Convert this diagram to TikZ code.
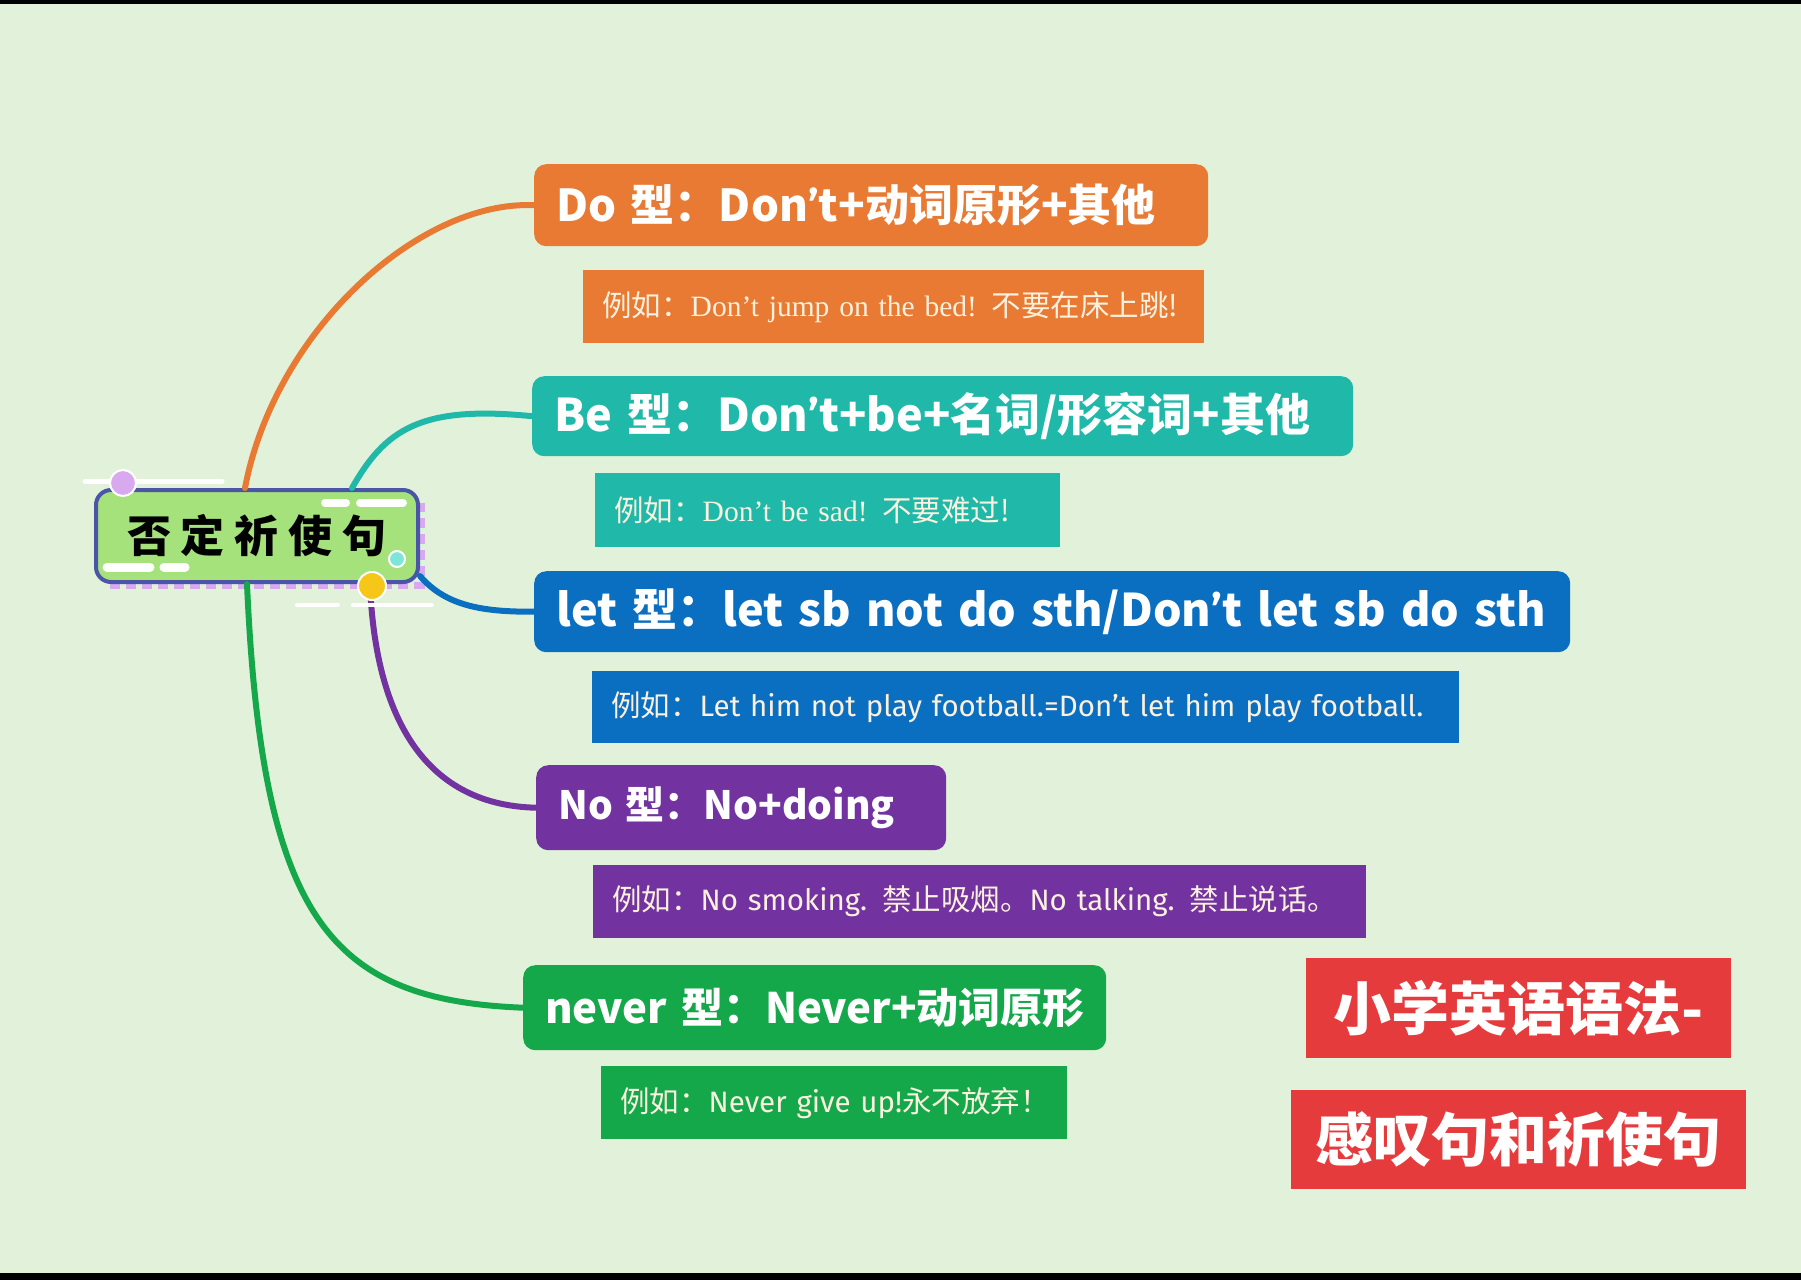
\documentclass[tikz,border=0pt]{standalone}
\usepackage{fontspec}
\usepackage{xcolor}
\usetikzlibrary{positioning}
\newfontfamily\cjk{Noto Sans CJK SC}
\newfontfamily\serifen{Liberation Serif}
\newfontfamily\sansen{Fira Sans}
\newcommand\apos{{\sansen ’}}
\definecolor{bg}{HTML}{E2F2DA}
\definecolor{doorange}{HTML}{E97A33}
\definecolor{beteal}{HTML}{20B9A9}
\definecolor{letblue}{HTML}{0A6EC1}
\definecolor{nopurple}{HTML}{7232A0}
\definecolor{nevergreen}{HTML}{14A84B}
\definecolor{tagred}{HTML}{E53B3C}
\definecolor{rootgreen}{HTML}{A5E27C}
\definecolor{rootblue}{HTML}{4A55A8}
\definecolor{dotpink}{HTML}{D9A9F0}
\definecolor{dotyellow}{HTML}{F6C619}
\definecolor{dotcyan}{HTML}{7EE6D9}
\definecolor{cream}{HTML}{FBF1DF}

\begin{document}
\begin{tikzpicture}[x=1pt,y=-1pt]
    \tikzstyle{branch}=[line width=6pt, line cap=round]
    \tikzstyle{title box}=[anchor=north west, rounded corners=12pt, text=white, inner xsep=22pt, inner ysep=0pt, align=left, font=\cjk\bfseries\fontsize{45}{48}\selectfont]
    \tikzstyle{example box}=[anchor=north west, text=cream, inner xsep=19pt, inner ysep=0pt, align=left, font=\fontsize{29.5}{32}\selectfont]
    \tikzstyle{tag box}=[anchor=north west, fill=tagred, text=white, inner sep=0pt, font=\cjk\bfseries\fontsize{58}{62}\selectfont]
    \tikzstyle{deco line}=[white, line cap=round]
    \tikzstyle{deco dot}=[draw=white, line width=2pt]

    \useasboundingbox (0,0) rectangle (1801,1280);
    \fill[bg] (0,0) rectangle (1801,1280);
    \fill[black] (0,0) rectangle (1801,4);
    \fill[black] (0,1273) rectangle (1801,1280);

    % central topic
    \draw[dotpink, line width=7pt, dash pattern=on 10pt off 6pt] (110,585) -- (421,585) -- (421,503);
    \node[draw=rootblue, line width=4pt, fill=rootgreen, rounded corners=15pt, anchor=north west, minimum width=322pt, minimum height=92pt, inner sep=0pt, font=\cjk\bfseries\fontsize{44}{48}\selectfont] (root) at (94,488) {否\hspace{10pt}定\hspace{10pt}祈\hspace{10pt}使\hspace{10pt}句};

    % branches
    \node[title box, fill=doorange, minimum height=82pt, text width=630pt, font=\cjk\bfseries\fontsize{44}{48}\selectfont] (do) at (534,164) {\mbox{Do 型：Don\apos t+动词原形+其他}};
    \node[example box, fill=doorange, minimum height=73pt, text width=583pt] (doex) at (583,270) {\mbox{{\cjk 例如：}{\serifen Don’t jump on the bed!} {\cjk 不要在床上跳!}}};

    \node[title box, fill=beteal, minimum height=80pt, text width=777pt] (be) at (532,376) {\mbox{Be 型：Don\apos t+be+名词/形容词+其他}};
    \node[example box, fill=beteal, minimum height=74pt, text width=427pt] (beex) at (595,473) {\mbox{{\cjk 例如：}{\serifen Don’t be sad!} {\cjk 不要难过!}}};

    \node[title box, fill=letblue, minimum height=81pt, text width=992pt] (let) at (534,571) {\mbox{let 型：let sb not do sth/Don\apos t let sb do sth}};
    \node[example box, fill=letblue, minimum height=72pt, text width=829pt] (letex) at (592,671) {\mbox{{\cjk 例如：}{\sansen Let him not play football.=Don’t let him play football.}}};

    \node[title box, fill=nopurple, minimum height=85pt, text width=366pt, font=\cjk\bfseries\fontsize{39}{44}\selectfont] (no) at (536,765) {\mbox{No 型：No+doing}};
    \node[example box, fill=nopurple, minimum height=73pt, text width=735pt] (noex) at (593,865) {\mbox{{\cjk 例如：}{\sansen No smoking.} {\cjk 禁止吸烟。}{\sansen No talking.} {\cjk 禁止说话。}}};

    \node[title box, fill=nevergreen, minimum height=85pt, text width=539pt, font=\cjk\bfseries\fontsize{42}{46}\selectfont] (never) at (523,965) {\mbox{never 型：Never+动词原形}};
    \node[example box, fill=nevergreen, minimum height=73pt, text width=428pt] (neverex) at (601,1066) {\mbox{{\cjk 例如：}{\sansen Never give up!}{\cjk 永不放弃！}}};

    \draw[branch, doorange] ([xshift=-12pt]root.north) .. controls (275,330) and (420,200) .. (do.west);
    \draw[branch, beteal] ([xshift=95pt]root.north) .. controls (385,430) and (420,405) .. (be.west);
    \draw[branch, letblue] ([yshift=-40pt]root.east) .. controls (445,605) and (480,612) .. (let.west);
    \draw[branch, nopurple] ([xshift=113pt]root.south) .. controls (375,710) and (420,805) .. (no.west);
    \draw[branch, nevergreen] ([xshift=-10pt]root.south) .. controls (262,920) and (330,1000) .. (never.west);

    % decorations
    \draw[deco line, line width=5pt] (85,481) -- (222,481);
    \draw[deco line, line width=8pt] (325,503) -- (346,503);
    \draw[deco line, line width=8pt] (360,503) -- (403,503);
    \draw[deco line, line width=9pt] (107,567) -- (150,567);
    \draw[deco line, line width=9pt] (164,567) -- (185,567);
    \draw[deco line, line width=4pt] (297,605) -- (338,605);
    \draw[deco line, line width=4pt] (353,605) -- (432,605);
    \filldraw[deco dot, fill=dotpink] (123,483) circle (13);
    \filldraw[deco dot, fill=dotcyan] (397,559) circle (8);
    \filldraw[deco dot, fill=dotyellow] (372,586) circle (14);

    % title tags
    \node[tag box, minimum width=425pt, minimum height=100pt] (tagone) at (1306,958) {小学英语语法-};
    \node[tag box, minimum width=455pt, minimum height=99pt] (tagtwo) at (1291,1090) {感叹句和祈使句};
\end{tikzpicture}
\end{document}
